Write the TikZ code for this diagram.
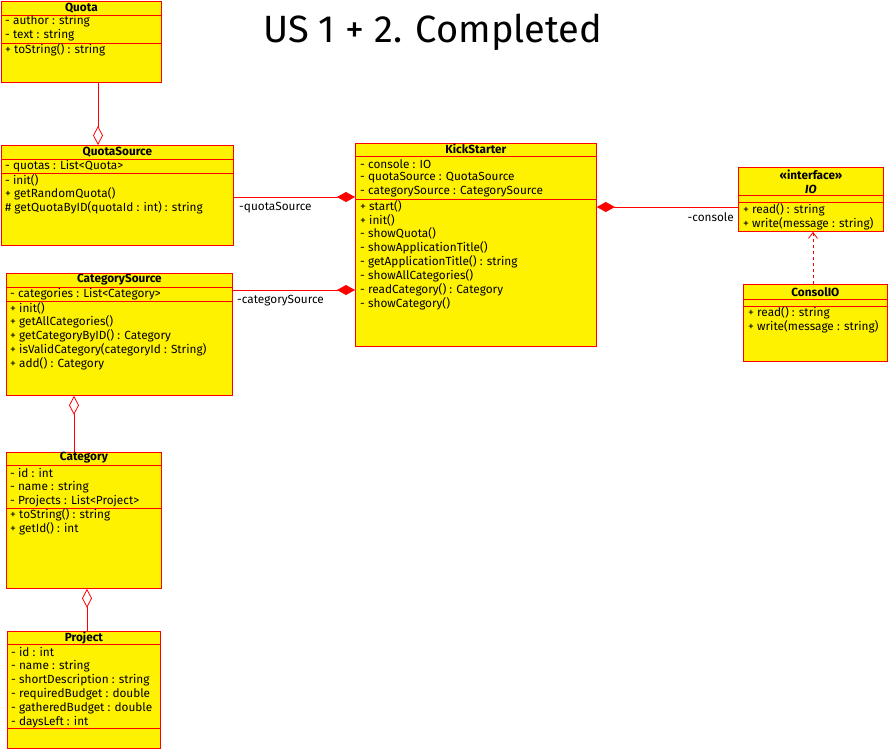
\documentclass[tikz,border=0pt]{standalone}
\usepackage{fontspec}
\setmainfont{Fira Sans}
\usetikzlibrary{arrows.meta, positioning}

\tikzset{
    owns/.tip={Diamond[length=18pt, width=10pt]},
    holds/.tip={Diamond[open, length=19pt, width=10pt]}
}

\begin{document}
\begin{tikzpicture}[x=1pt, y=-1pt,
    classbox/.style={draw=red, fill=yellow, line width=0.8pt, anchor=north west, inner sep=0pt},
    classname/.style={inner sep=0pt, font=\fontsize{11.8}{14}\selectfont\bfseries},
    member/.style={anchor=west, inner sep=0pt, font=\fontsize{11.8}{14}\selectfont},
    sepline/.style={red, line width=0.8pt},
    assoc/.style={red, line width=0.8pt},
    role/.style={anchor=west, inner sep=0pt, font=\fontsize{11.8}{14}\selectfont}]

    \fill[white] (0,0) rectangle (888,750);
    \useasboundingbox (0,0) rectangle (888,750);

    \node[font=\fontsize{38}{44}\selectfont, anchor=west, inner sep=0pt] (heading) at (263,32) {US 1 + 2. Completed};

    % Quota
    \node[classbox, minimum width=160pt, minimum height=81pt] (quota) at (1,1) {};
    \node[classname] (quota-t) at (quota.north |- 0,8) {Quota};
    \draw[sepline] (quota.west |- 0,15) -- (quota.east |- 0,15);
    \foreach \t [count=\i from 0] in {- author : string, - text : string}
        \node[member] (quota-a\i) at (5,21+14*\i) {\t};
    \draw[sepline] (quota.west |- 0,43) -- (quota.east |- 0,43);
    \node[member] (quota-m0) at (5,50) {+ toString() : string};

    % QuotaSource
    \node[classbox, minimum width=232pt, minimum height=100pt] (qsrc) at (1,145) {};
    \node[classname] (qsrc-t) at (qsrc.north |- 0,152) {QuotaSource};
    \draw[sepline] (qsrc.west |- 0,159) -- (qsrc.east |- 0,159);
    \node[member] (qsrc-a0) at (5,166) {- quotas : List<Quota>};
    \draw[sepline] (qsrc.west |- 0,173) -- (qsrc.east |- 0,173);
    \foreach \t [count=\i from 0] in {- init(), + getRandomQuota(), \# getQuotaByID(quotaId : int) : string}
        \node[member] (qsrc-m\i) at (5,180+14*\i) {\t};

    % CategorySource
    \node[classbox, minimum width=226pt, minimum height=122pt] (csrc) at (6,273) {};
    \node[classname] (csrc-t) at (csrc.north |- 0,280) {CategorySource};
    \draw[sepline] (csrc.west |- 0,287) -- (csrc.east |- 0,287);
    \node[member] (csrc-a0) at (10,294) {- categories : List<Category>};
    \draw[sepline] (csrc.west |- 0,301) -- (csrc.east |- 0,301);
    \foreach \t [count=\i from 0] in {+ init(), + getAllCategories(), + getCategoryByID() : Category,
            + isValidCategory(categoryId : String), + add() : Category}
        \node[member] (csrc-m\i) at (10,308+14*\i) {\t};

    % Category
    \node[classbox, minimum width=155pt, minimum height=136pt] (cat) at (6,452) {};
    \node[classname] (cat-t) at (cat.north |- 0,458) {Category};
    \draw[sepline] (cat.west |- 0,465) -- (cat.east |- 0,465);
    \foreach \t [count=\i from 0] in {- id : int, - name : string, - Projects : List<Project>}
        \node[member] (cat-a\i) at (10,473+14*\i) {\t};
    \draw[sepline] (cat.west |- 0,508) -- (cat.east |- 0,508);
    \foreach \t [count=\i from 0] in {+ toString() : string, + getId() : int}
        \node[member] (cat-m\i) at (10,515+14*\i) {\t};

    % Project
    \node[classbox, minimum width=153pt, minimum height=117pt] (proj) at (7,631) {};
    \node[classname] (proj-t) at (proj.north |- 0,638) {Project};
    \draw[sepline] (proj.west |- 0,644) -- (proj.east |- 0,644);
    \foreach \t [count=\i from 0] in {- id : int, - name : string, - shortDescription : string,
            - requiredBudget : double, - gatheredBudget : double, - daysLeft : int}
        \node[member] (proj-a\i) at (11,652+14*\i) {\t};
    \draw[sepline] (proj.west |- 0,728) -- (proj.east |- 0,728);

    % KickStarter
    \node[classbox, minimum width=241pt, minimum height=203pt] (kick) at (355,143) {};
    \node[classname] (kick-t) at (kick.north |- 0,149) {KickStarter};
    \draw[sepline] (kick.west |- 0,156) -- (kick.east |- 0,156);
    \foreach \t [count=\i from 0] in {- console : IO, - quotaSource : QuotaSource, - categorySource : CategorySource}
        \node[member] (kick-a\i) at (360,164+14*\i) {\t};
    \draw[sepline] (kick.west |- 0,199) -- (kick.east |- 0,199);
    \foreach \t [count=\i from 0] in {+ start(), + init(), - showQuota(), - showApplicationTitle(),
            - getApplicationTitle() : string, - showAllCategories(), - readCategory() : Category, - showCategory()}
        \node[member] (kick-m\i) at (360,206+13.9*\i) {\t};

    % IO
    \node[classbox, minimum width=145pt, minimum height=64pt] (io) at (738,167) {};
    \node[classname] (io-s) at (io.north |- 0,175) {«interface»};
    \node[classname, font=\fontsize{11.8}{14}\selectfont\bfseries\itshape] (io-t) at (io.north |- 0,189) {IO};
    \draw[sepline] (io.west |- 0,195) -- (io.east |- 0,195);
    \draw[sepline] (io.west |- 0,202) -- (io.east |- 0,202);
    \foreach \t [count=\i from 0] in {+ read() : string, + write(message : string)}
        \node[member] (io-m\i) at (743,210+13.5*\i) {\t};

    % ConsolIO
    \node[classbox, minimum width=144pt, minimum height=77pt] (consol) at (743,284) {};
    \node[classname] (consol-t) at (consol.north |- 0,292) {ConsolIO};
    \draw[sepline] (consol.west |- 0,299) -- (consol.east |- 0,299);
    \draw[sepline] (consol.west |- 0,306) -- (consol.east |- 0,306);
    \foreach \t [count=\i from 0] in {+ read() : string, + write(message : string)}
        \node[member] (consol-m\i) at (748,313+13.5*\i) {\t};

    % connectors
    \coordinate (qjoin) at (98,0);
    \coordinate (cjoin) at (74,0);
    \coordinate (pjoin) at (87,0);
    \coordinate (iojoin) at (813,0);
    \coordinate (qlevel) at (0,197);
    \coordinate (clevel) at (0,290);
    \coordinate (conlevel) at (0,207);

    \draw[assoc, -holds] (quota.south -| qjoin) -- (qsrc.north -| qjoin);
    \draw[assoc, holds-] (csrc.south -| cjoin) -- (cat.north -| cjoin);
    \draw[assoc, holds-] (cat.south -| pjoin) -- (proj.north -| pjoin);
    \draw[assoc, -owns] (qsrc.east |- qlevel) -- (kick.west |- qlevel);
    \draw[assoc, -owns] (csrc.east |- clevel) -- (kick.west |- clevel);
    \draw[assoc, owns-] (kick.east |- conlevel) -- (io.west |- conlevel);
    \draw[assoc, dashed, -{Straight Barb[length=6pt, width=9pt]}] (consol.north -| iojoin) -- (io.south -| iojoin);

    \node[role] (qrole) at (239,208) {-quotaSource};
    \node[role] (crole) at (237,301) {-categorySource};
    \node[role, anchor=east] (conrole) at (734,217) {-console};
\end{tikzpicture}
\end{document}
